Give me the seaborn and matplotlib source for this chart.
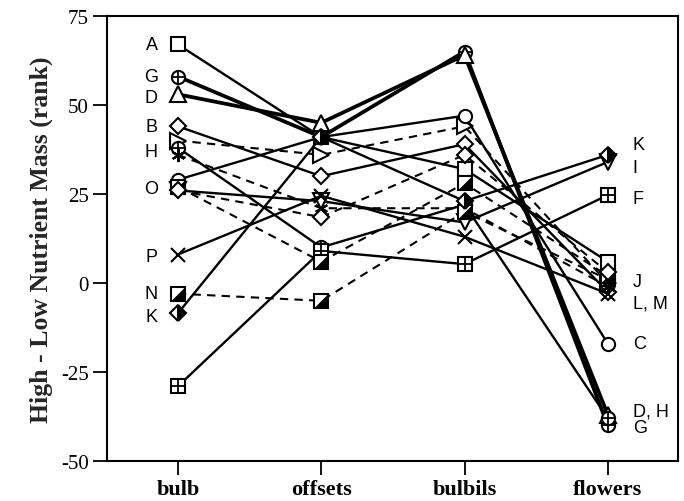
import matplotlib
matplotlib.use("Agg")
import matplotlib.pyplot as plt
import seaborn as sns
import pandas as pd

sns.set_theme(style="ticks")
plt.rcParams['font.family'] = ['Liberation Serif', 'DejaVu Serif']

# ---------------- data ----------------
parts = ["bulb", "offsets", "bulbils", "flowers"]

sq_A = [67, 41, 32, 6]
cplus_G = [58, 41, 65, -40]
tri_D = [53, 45, 64, -37]
dia_B = [44, 30, 39, -2.5]
tri_right = [40, 36, 44, 0]
cplus_H = [38, 10, 22, -38]
aster = [36, 21, 21, -1]
circ_O = [29, 41, 47, -17]
tri_down = [26, 23, 17, 34]
x_P = [8, 24.5, 13, -3]
half_sq_N = [-3, -5, 20, 1]
half_dia_K = [-8.5, 41, 23, 36]
sq_plus = [-29, 9, 5.3, 24.7]
half_sq_2 = [27, 6, 28, 2]
dia_2 = [26, 18.5, 36, 3]

left_letters = ["A", "G", "D", "B", "H", "O", "P", "N", "K"]
left_letter_y = [67, 58, 52, 44, 37, 26.5, 7.5, -3, -9.5]
right_letters = ["K", "I", "F", "J", "L, M", "C", "D, H", "G"]
right_letter_y = [39, 32.5, 23.8, 0.5, -5.5, -17, -36, -40.5]

yticks = [-50, -25, 0, 25, 50, 75]

# ---------------- styles ----------------
SOLID = "-"
DASH = (0, (4, 3))
tri_lr = [(-0.5, -0.5), (0.5, -0.5), (0.5, 0.5), (-0.5, -0.5)]

# (values, marker, facecolor, linestyle, linewidth, overlay, extra)
series = [
    (sq_A, "s", "white", SOLID, 1.7, None, {}),
    (cplus_G, "o", "white", SOLID, 2.7, "+", {}),
    (tri_D, "^", "white", SOLID, 2.7, None, {}),
    (dia_B, "D", "white", SOLID, 1.7, None, {}),
    (tri_right, ">", "white", DASH, 1.5, None, {}),
    (cplus_H, "o", "white", SOLID, 1.7, "+", {}),
    (aster, (6, 2, 0), "black", DASH, 1.5, None, {}),
    (circ_O, "o", "white", SOLID, 1.7, None, {}),
    (tri_down, "v", "white", SOLID, 1.7, None, {}),
    (x_P, "x", "black", SOLID, 1.7, None, {}),
    (half_sq_N, "s", "white", DASH, 1.5, "tri", {}),
    (half_dia_K, "D", "black", SOLID, 1.7, None,
     {"fillstyle": "right", "markerfacecoloralt": "white"}),
    (sq_plus, "s", "white", SOLID, 1.7, "+", {}),
    (half_sq_2, "s", "white", DASH, 1.5, "tri", {}),
    (dia_2, "D", "white", DASH, 1.5, None, {}),
]

fig, ax = plt.subplots(figsize=(6.84, 5.02), dpi=100)
fig.subplots_adjust(left=107 / 684, right=678 / 684, bottom=40 / 502, top=1 - 17 / 502)

MS = 9.5
for vals, m, fc, ls, lw, ov, extra in series:
    df = pd.DataFrame({"part": parts, "value": vals})
    msz = MS * 1.15 if m in ("^", "v", ">") else (MS * 0.85 if m == "D" else MS)
    sns.lineplot(data=df, x="part", y="value", ax=ax, sort=False, color="black",
                 linestyle=ls, linewidth=lw, marker=m, markersize=msz,
                 markerfacecolor=fc, markeredgecolor="black", markeredgewidth=1.5,
                 **extra)
    if ov == "+":
        sns.lineplot(data=df, x="part", y="value", ax=ax, sort=False, color="black",
                     linestyle="none", marker="+", markersize=MS,
                     markeredgecolor="black", markeredgewidth=1.3)
    elif ov == "tri":
        sns.lineplot(data=df, x="part", y="value", ax=ax, sort=False, color="black",
                     linestyle="none", marker=tri_lr, markersize=MS,
                     markerfacecolor="black", markeredgecolor="black", markeredgewidth=0.5)

# letters
for t, y in zip(left_letters, left_letter_y):
    ax.text(-0.14, y, t, ha="right", va="center", fontsize=13,
            family=["Liberation Sans", "DejaVu Sans"], color="black")
for t, y in zip(right_letters, right_letter_y):
    ax.text(3.175, y, t, ha="left", va="center", fontsize=13,
            family=["Liberation Sans", "DejaVu Sans"], color="black")

ax.set_xlim(-0.495, 3.49)
ax.set_ylim(-50, 75)
ax.set_yticks(yticks)
ax.set_yticklabels([str(v) for v in yticks], fontsize=15)
ax.set_xticks(range(len(parts)))
ax.set_xticklabels(parts, fontsize=16, fontweight="bold")
ax.set_xlabel("")
ax.set_ylabel("High - Low Nutrient Mass (rank)", fontsize=18.5, fontweight="bold", labelpad=6)
ax.tick_params(axis="both", direction="out", length=10, width=1.3, color="black",
               labelcolor="black", pad=3)
for sp in ax.spines.values():
    sp.set_visible(True)
    sp.set_linewidth(1.5)
    sp.set_color("black")

fig.savefig("out.png", dpi=100, facecolor="white")
